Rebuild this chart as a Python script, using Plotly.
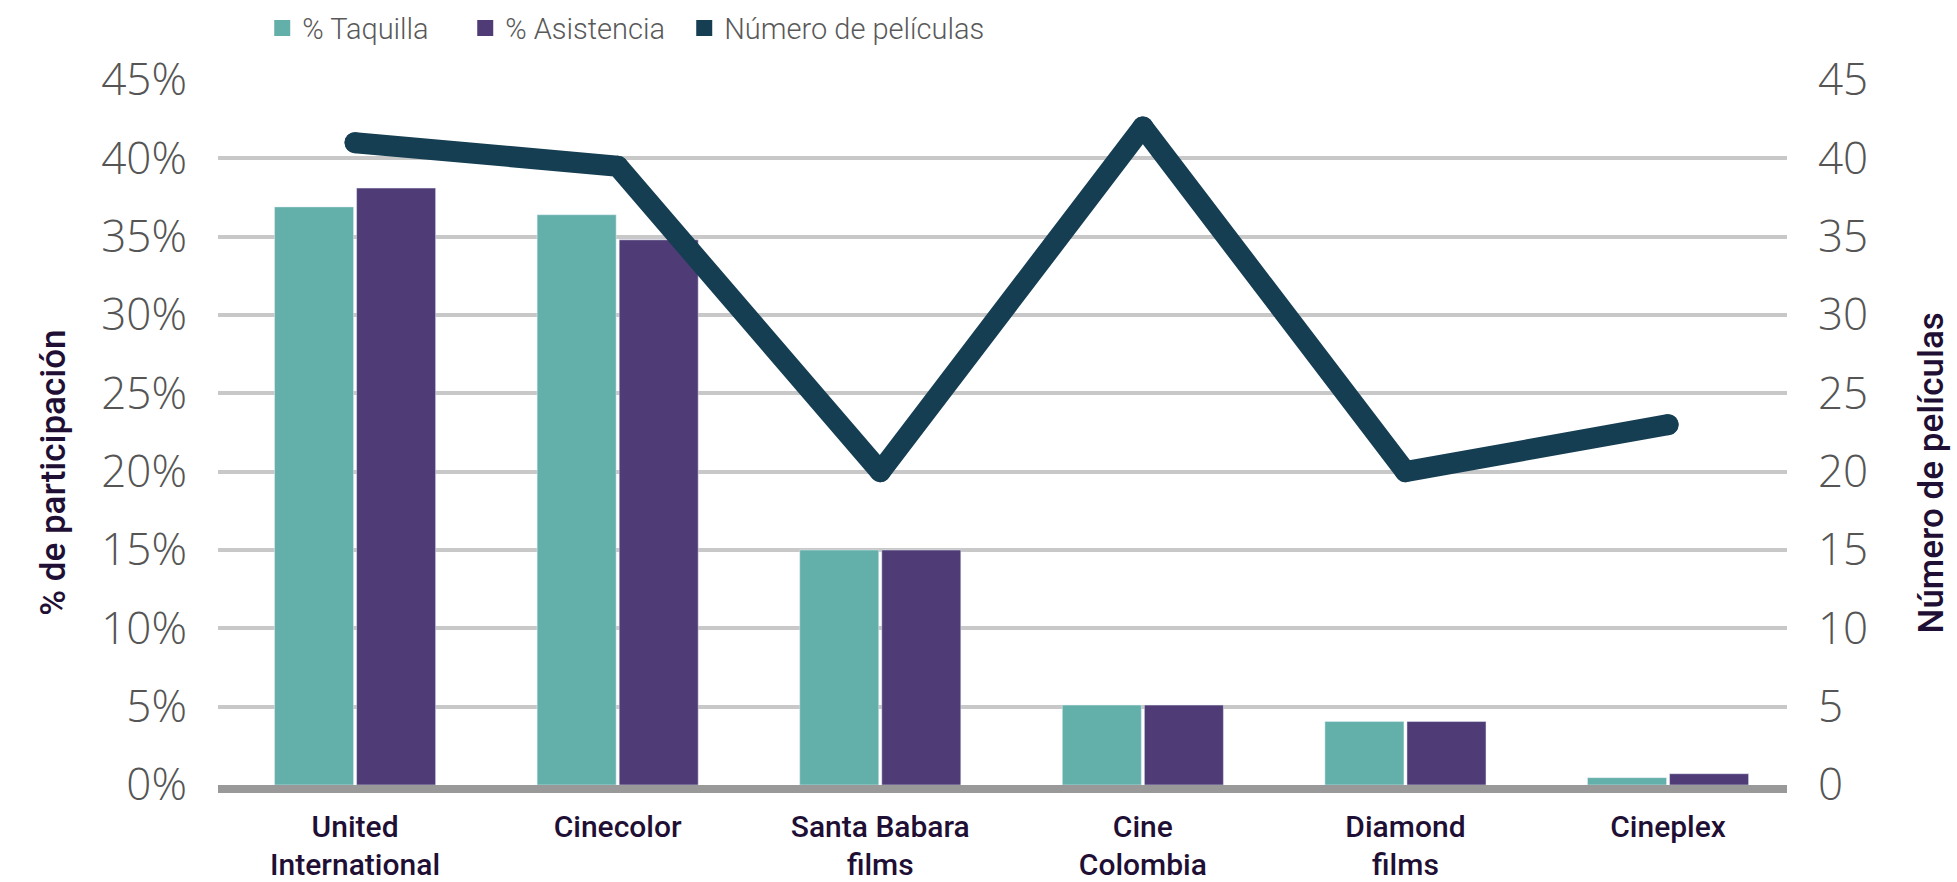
import plotly.graph_objects as go

# ---------------- data ----------------
categories = ["United International", "Cinecolor", "Santa Babara films",
              "Cine Colombia", "Diamond films", "Cineplex"]
label_line1 = ["United", "Cinecolor", "Santa Babara", "Cine", "Diamond", "Cineplex"]
label_line2 = ["International", "", "films", "Colombia", "films", ""]

taquilla = [36.9, 36.4, 15.0, 5.1, 4.05, 0.47]      # % Taquilla
asistencia = [38.1, 34.8, 15.0, 5.1, 4.05, 0.72]    # % Asistencia
peliculas = [41, 39.5, 20, 42, 20, 23]             # Número de películas

y_ticks = [0, 5, 10, 15, 20, 25, 30, 35, 40, 45]
y_left_labels = ["0%", "5%", "10%", "15%", "20%", "25%", "30%", "35%", "40%", "45%"]
y_right_labels = ["0", "5", "10", "15", "20", "25", "30", "35", "40", "45"]

# ---------------- styles ----------------
C_TEAL = "#63b0aa"
C_PURPLE = "#4f3c76"
C_LINE = "#153e53"
C_TICK = "#555555"
C_TITLE = "#1f0f35"
GRID = "#c8c8c8"

X_RANGE = [-0.522, 5.453]

fig = go.Figure()

fig.add_trace(go.Bar(x=categories, y=taquilla, name="% Taquilla",
                     marker_color=C_TEAL, showlegend=False))
fig.add_trace(go.Bar(x=categories, y=asistencia, name="% Asistencia",
                     marker_color=C_PURPLE, showlegend=False))
fig.add_trace(go.Scatter(x=categories, y=peliculas, name="Número de películas",
                         mode="lines+markers", xaxis="x3", yaxis="y2",
                         line=dict(color=C_LINE, width=21),
                         marker=dict(color=C_LINE, size=21),
                         showlegend=False))

# legend-only entries (square swatches)
for nm, col, lw in [("% Taquilla", C_TEAL, 158),
                    ("% Asistencia", C_PURPLE, 174),
                    ("Número de películas", C_LINE, 270)]:
    fig.add_trace(go.Scatter(x=[None], y=[None], mode="markers", name=nm,
                             marker=dict(symbol="square", size=22, color=col),
                             legendwidth=lw, hoverinfo="skip"))

fig.update_layout(
    width=1957, height=882,
    margin=dict(l=218, r=170, t=80, b=97, autoexpand=False),
    paper_bgcolor="white", plot_bgcolor="white",
    barmode="group", bargap=0.375, bargroupgap=0.037,
    font=dict(family="Roboto, sans-serif"),
    legend=dict(orientation="h", xref="container", yref="container",
                x=0.134, xanchor="left", y=0.968, yanchor="middle",
                font=dict(family="Roboto", size=29, color="#595959", weight=300),
                itemsizing="trace", bgcolor="rgba(0,0,0,0)"),
    xaxis=dict(type="category", range=X_RANGE, tickvals=categories, ticktext=label_line1,
               showgrid=False, zeroline=False, showline=True, linewidth=8,
               linecolor="#999999", ticks="", ticklabelstandoff=8, automargin=False,
               tickfont=dict(family="Roboto", size=30, color=C_TITLE, weight=500)),
    xaxis3=dict(type="category", range=X_RANGE, overlaying="x", anchor="y", side="bottom",
                tickvals=categories, ticktext=label_line2,
                showgrid=False, zeroline=False, showline=False, ticks="",
                ticklabelstandoff=59, automargin=False,
                tickfont=dict(family="Roboto", size=30, color=C_TITLE, weight=500)),
    yaxis=dict(range=[0, 45], tickvals=y_ticks, ticktext=y_left_labels,
               showgrid=True, gridcolor=GRID, gridwidth=4, zeroline=False,
               showline=False, ticks="", ticklabelstandoff=30, automargin=False,
               tickfont=dict(family="Open Sans", size=44, color=C_TICK, weight=300)),
    yaxis2=dict(range=[0, 45], tickvals=y_ticks, ticktext=y_right_labels,
                overlaying="y", side="right", anchor="x",
                showgrid=False, zeroline=False, showline=False, ticks="",
                ticklabelstandoff=30, automargin=False,
                tickfont=dict(family="Open Sans", size=44, color=C_TICK, weight=300)),
    annotations=[
        dict(text="% de participación", xref="paper", yref="paper", x=-0.1045, y=0.443,
             xanchor="center", yanchor="middle", textangle=-90, showarrow=False,
             font=dict(family="Roboto", size=35, color=C_TITLE, weight=500)),
        dict(text="Número de películas", xref="paper", yref="paper", x=1.0918, y=0.442,
             xanchor="center", yanchor="middle", textangle=-90, showarrow=False,
             font=dict(family="Roboto", size=35, color=C_TITLE, weight=500)),
    ],
)

POST = (
    "document.body.style.margin='0';"
    "document.querySelectorAll('.scatterlayer .js-line').forEach(function(p){"
    "p.style.strokeLinejoin='round';p.style.strokeLinecap='round';});"
)

fig.write_html("out.html", config={"displayModeBar": False}, post_script=POST)
